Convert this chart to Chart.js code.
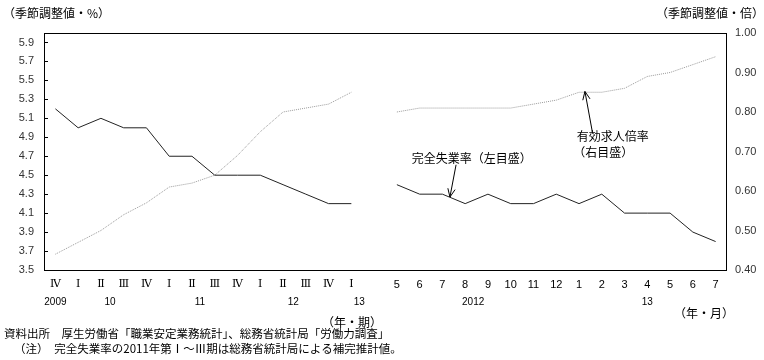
<!DOCTYPE html>
<html>
<head>
<meta charset="utf-8">
<script src="https://cdn.jsdelivr.net/npm/chart.js@4/dist/chart.umd.min.js"></script>
<style>
  html,body{margin:0;padding:0;background:#fff;}
  #wrap{width:764px;height:360px;position:relative;}
</style>
</head>
<body>
<div id="wrap"><canvas id="c" width="764" height="360"></canvas></div>
<script>
// ---- data ----
const quarterLabels = ['Ⅳ','Ⅰ','Ⅱ','Ⅲ','Ⅳ','Ⅰ','Ⅱ','Ⅲ','Ⅳ','Ⅰ','Ⅱ','Ⅲ','Ⅳ','Ⅰ'];
const monthLabels = ['5','6','7','8','9','10','11','12','1','2','3','4','5','6','7'];
const unempQuarter = [5.2,5.0,5.1,5.0,5.0,4.7,4.7,4.5,4.5,4.5,4.4,4.3,4.2,4.2];
const unempMonth   = [4.4,4.3,4.3,4.2,4.3,4.2,4.2,4.3,4.2,4.3,4.1,4.1,4.1,3.9,3.8];
const ratioQuarter = [0.44,0.47,0.50,0.54,0.57,0.61,0.62,0.64,0.69,0.75,0.80,0.81,0.82,0.85];
const ratioMonth   = [0.80,0.81,0.81,0.81,0.81,0.81,0.82,0.83,0.85,0.85,0.86,0.89,0.90,0.92,0.94];
const leftTicks  = [3.5,3.7,3.9,4.1,4.3,4.5,4.7,4.9,5.1,5.3,5.5,5.7,5.9];
const rightTicks = [0.40,0.50,0.60,0.70,0.80,0.90,1.00];
const yearLabels = ['2009','10','11','12','13','2012','13'];
const yearLabelAt = [0,2.4,6.35,10.45,13.35,18.35,26];

// ---- build ----
const labels = quarterLabels.concat([''], monthLabels);
const unemp = unempQuarter.concat([null], unempMonth);
const ratio = ratioQuarter.concat([null], ratioMonth);

const JP = '"Noto Sans CJK JP", sans-serif';
const NUM = '"Liberation Sans", "Noto Sans CJK JP", sans-serif';
const ROMAN = '"DejaVu Serif", "Liberation Serif", "Noto Sans CJK JP", serif';

const decor = {
  id: 'decor',
  afterDraw(chart) {
    const ctx = chart.ctx;
    const a = chart.chartArea;
    const x = chart.scales.x, yl = chart.scales.y, yr = chart.scales.y2;
    ctx.save();
    // frame
    ctx.strokeStyle = '#000';
    ctx.lineWidth = 1;
    ctx.strokeRect(Math.round(a.left)+0.5, Math.round(a.top)+0.5, Math.round(a.right-a.left)-1, Math.round(a.bottom-a.top));
    // inward ticks on left axis
    ctx.beginPath();
    yl.ticks.forEach(t => {
      const py = Math.round(yl.getPixelForValue(t.value)) + 0.5;
      ctx.moveTo(a.left, py); ctx.lineTo(a.left + 4, py);
    });
    ctx.stroke();

    // year labels
    ctx.fillStyle = '#000';
    ctx.font = '10px ' + NUM;
    ctx.textAlign = 'center';
    ctx.textBaseline = 'middle';
    yearLabels.forEach((t, i) => {
      ctx.fillText(t, x.getPixelForValue(yearLabelAt[i]), 302);
    });

    // unit labels
    ctx.font = '12px ' + JP;
    ctx.textAlign = 'left';
    ctx.fillText('（季節調整値・%）', 3, 13);
    ctx.textAlign = 'right';
    ctx.fillText('（季節調整値・倍）', 764, 13);
    ctx.fillText('（年・期）', 382, 322);
    ctx.fillText('（年・月）', 734, 313);

    // footnotes
    ctx.textAlign = 'left';
    ctx.font = '11.5px ' + JP;
    ctx.fillText('資料出所　厚生労働省「職業安定業務統計」、総務省統計局「労働力調査」', 4, 334);
    ctx.fillText('（注）　完全失業率の2011年第Ⅰ～Ⅲ期は総務省統計局による補完推計値。', 14, 349);

    // annotations
    ctx.font = '12px ' + JP;
    ctx.textAlign = 'left';
    ctx.fillText('完全失業率（左目盛）', x.getPixelForValue(15.65), yl.getPixelForValue(4.68));
    ctx.fillText('有効求人倍率', x.getPixelForValue(22.9), yr.getPixelForValue(0.737));
    ctx.fillText('（右目盛）', x.getPixelForValue(22.75), yr.getPixelForValue(0.697));

    function arrow(x0, y0, x1, y1) {
      ctx.beginPath();
      ctx.moveTo(x0, y0); ctx.lineTo(x1, y1);
      const ang = Math.atan2(y1 - y0, x1 - x0);
      const L = 9, w = 0.42;
      ctx.moveTo(x1 - L*Math.cos(ang - w), y1 - L*Math.sin(ang - w));
      ctx.lineTo(x1, y1);
      ctx.lineTo(x1 - L*Math.cos(ang + w), y1 - L*Math.sin(ang + w));
      ctx.strokeStyle = '#000';
      ctx.lineWidth = 1;
      ctx.stroke();
    }
    arrow(x.getPixelForValue(17.6), yl.getPixelForValue(4.61), x.getPixelForValue(17.33), yl.getPixelForValue(4.27));
    arrow(x.getPixelForValue(23.6), yr.getPixelForValue(0.745), x.getPixelForValue(23.26), yr.getPixelForValue(0.852));
    ctx.restore();
  }
};

new Chart(document.getElementById('c'), {
  type: 'line',
  data: {
    labels: labels,
    datasets: [
      {
        label: '完全失業率（左目盛）',
        data: unemp,
        yAxisID: 'y',
        borderColor: '#222',
        borderWidth: 1,
        pointRadius: 0,
        tension: 0,
        spanGaps: false,
        fill: false
      },
      {
        label: '有効求人倍率（右目盛）',
        data: ratio,
        yAxisID: 'y2',
        borderColor: '#999',
        borderWidth: 1,
        borderDash: [1, 1],
        pointRadius: 0,
        tension: 0,
        spanGaps: false,
        fill: false
      }
    ]
  },
  options: {
    responsive: false,
    animation: false,
    events: [],
    layout: { padding: { top: 33, left: 0, right: 0, bottom: 0 } },
    plugins: { legend: { display: false }, tooltip: { enabled: false } },
    scales: {
      x: {
        type: 'category',
        offset: true,
        grid: { display: false, drawTicks: false },
        border: { display: false },
        ticks: {
          autoSkip: false, maxRotation: 0, minRotation: 0,
          padding: 8, color: '#000',
          font: c => (c.index < quarterLabels.length)
            ? { family: ROMAN, size: 11 }
            : { family: NUM, size: 11 }
        },
        afterFit(s) { s.height = 90; }
      },
      y: {
        position: 'left',
        min: 3.5, max: 6.0,
        afterBuildTicks(s) { s.ticks = leftTicks.map(v => ({ value: v })); },
        grid: { display: false, drawTicks: false },
        border: { display: false },
        ticks: {
          padding: 10, color: '#333',
          font: { family: NUM, size: 11 },
          callback: v => v.toFixed(1)
        },
        afterFit(s) { s.width = 44; }
      },
      y2: {
        position: 'right',
        min: 0.4, max: 1.0,
        afterBuildTicks(s) { s.ticks = rightTicks.map(v => ({ value: v })); },
        grid: { display: false, drawTicks: false },
        border: { display: false },
        ticks: {
          padding: 8, color: '#333',
          font: { family: NUM, size: 11 },
          callback: v => v.toFixed(2)
        },
        afterFit(s) { s.width = 37; }
      }
    }
  },
  plugins: [decor]
});
</script>
</body>
</html>
